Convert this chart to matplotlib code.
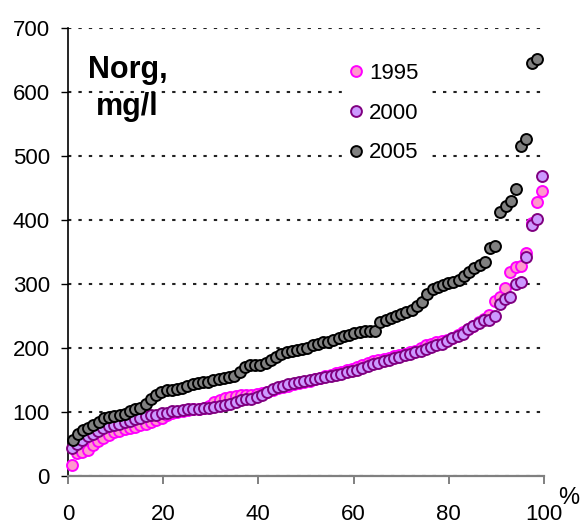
"""
Norg concentration percentile curves, 1995 / 2000 / 2005.
Each series is sorted ascending and plotted against its percentile rank.
"""

import numpy as np
import matplotlib.pyplot as plt
from matplotlib.lines import Line2D

plt.rcParams['font.family'] = ['Liberation Sans', 'DejaVu Sans']

# values, mg/l, sorted ascending
v1995 = [17, 36, 38, 40, 48, 55, 60, 64, 68, 71,
         73, 75, 77, 79, 82, 85, 87, 90, 95, 98,
         100, 102, 103, 104, 105, 107, 110, 115, 119, 122,
         124, 125, 126, 126, 127, 128, 130, 132, 135, 137,
         139, 141, 143, 145, 147, 149, 151, 153, 156, 158,
         161, 163, 165, 167, 170, 173, 176, 179, 181, 183,
         185, 187, 189, 191, 193, 196, 200, 205, 207, 209,
         211, 213, 216, 220, 225, 230, 235, 240, 246, 252,
         273, 279, 294, 318, 326, 328, 348, 396, 428, 445]

v2000 = [44, 50, 57, 62, 66, 71, 75, 78, 80, 82,
         84, 86, 89, 91, 93, 95, 96, 98, 99, 101,
         102, 103, 104, 104, 105, 106, 107, 108, 109, 111,
         113, 116, 118, 120, 121, 124, 127, 131, 136, 139,
         141, 143, 146, 147, 148, 150, 151, 153, 154, 156,
         158, 160, 162, 164, 166, 169, 172, 175, 177, 179,
         181, 184, 186, 189, 191, 193, 196, 199, 202, 205,
         207, 211, 215, 218, 222, 230, 235, 239, 244, 244,
         250, 268, 276, 280, 300, 303, 342, 392, 402, 469]

v2005 = [57, 66, 72, 75, 79, 84, 90, 92, 94, 96,
         97, 101, 105, 106, 112, 120, 127, 132, 134, 135,
         136, 138, 140, 144, 146, 147, 147, 150, 152, 153,
         155, 157, 163, 170, 173, 173, 174, 176, 181, 186,
         190, 193, 195, 197, 198, 200, 204, 207, 209, 210,
         212, 215, 218, 220, 223, 225, 226, 226, 227, 240,
         244, 247, 250, 253, 256, 260, 265, 272, 284, 292,
         296, 298, 301, 303, 306, 312, 319, 325, 329, 334,
         356, 359, 413, 421, 430, 448, 516, 527, 645, 652]

years = ['1995', '2000', '2005']
yticks = [0, 100, 200, 300, 400, 500, 600, 700]
xticks = [0, 20, 40, 60, 80, 100]

# percentile position of each ranked value
p1995 = np.linspace(0.8, 99.6, len(v1995))
p2000 = np.linspace(0.8, 99.6, len(v2000))
p2005 = np.linspace(1.0, 98.5, len(v2005))

styles = {
    '1995': dict(facecolor='#ff99cc', edgecolor='#ff00ff'),
    '2000': dict(facecolor='#cc99ff', edgecolor='#800080'),
    '2005': dict(facecolor='#808080', edgecolor='#000000'),
}

fig = plt.figure(figsize=(5.8, 5.26), dpi=100)
ax = fig.add_axes([0.117, 0.095, 0.821, 0.852])

for yr, xs, vs in zip(years, [p1995, p2000, p2005], [v1995, v2000, v2005]):
    ax.scatter(xs, vs, s=62, linewidths=1.4, clip_on=False, zorder=3, **styles[yr])

ax.set_xlim(0, 100)
ax.set_ylim(0, 700)
ax.set_xticks(xticks)
ax.set_yticks(yticks)
ax.set_xticklabels(['0', '20', '40', '60', '80', '100'])

ax.yaxis.grid(True, color='#222222', linewidth=1.5, linestyle=(0, (1.6, 3.4)))
ax.set_axisbelow(True)

for s in ['top', 'right']:
    ax.spines[s].set_visible(False)
ax.spines['left'].set_color('black')
ax.spines['left'].set_linewidth(1.2)
ax.spines['bottom'].set_color('#808080')
ax.spines['bottom'].set_linewidth(1.6)

ax.tick_params(axis='y', length=5, width=1, color='black', labelsize=16, pad=8)
ax.tick_params(axis='x', length=6, width=1.4, color='#808080', labelsize=16, pad=14)

ax.text(1.052, -0.048, '%', transform=ax.transAxes, ha='center', va='center', fontsize=17)

ax.text(0.125, 0.865, 'Norg,\nmg/l', transform=ax.transAxes, ha='center', va='center',
        fontsize=22, fontweight='bold', linespacing=1.3)

handles = [Line2D([], [], linestyle='none', marker='o', markersize=7.8,
                  markerfacecolor=styles[yr]['facecolor'],
                  markeredgecolor=styles[yr]['edgecolor'], markeredgewidth=1.4)
           for yr in years]
ax.legend(handles, years, loc='upper left', bbox_to_anchor=(0.553, 0.962),
          fontsize=16, frameon=True, facecolor='white', edgecolor='white',
          framealpha=1, handlelength=0.6, handletextpad=0.3, labelspacing=0.85,
          borderpad=0.3, fancybox=False)

plt.savefig('out.png', dpi=100)
